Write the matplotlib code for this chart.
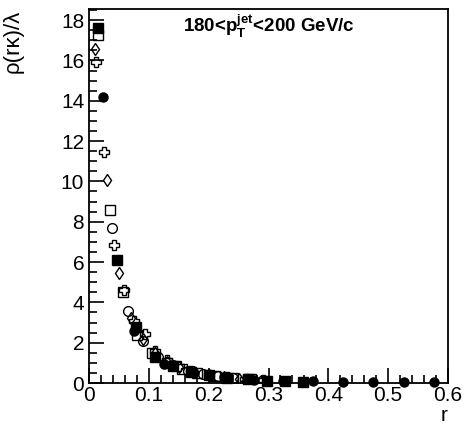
import matplotlib.pyplot as plt
from matplotlib.ticker import MultipleLocator, FuncFormatter

plt.rcParams['font.family'] = ['Liberation Sans', 'DejaVu Sans']
plt.rcParams['mathtext.fontset'] = 'custom'
plt.rcParams['mathtext.rm'] = 'Liberation Sans:bold'
plt.rcParams['mathtext.bf'] = 'Liberation Sans:bold'

# filled circles
r_fc = [0.023, 0.075, 0.125, 0.175, 0.225, 0.275, 0.325, 0.375, 0.425, 0.475, 0.527, 0.577]
y_fc = [14.2, 2.6, 0.95, 0.5, 0.28, 0.17, 0.12, 0.09, 0.07, 0.06, 0.05, 0.05]
# filled squares
r_fs = [0.015, 0.047, 0.078, 0.11, 0.14, 0.17, 0.2, 0.23, 0.265, 0.297, 0.328, 0.358]
y_fs = [17.6, 6.1, 2.8, 1.3, 0.85, 0.55, 0.38, 0.27, 0.2, 0.12, 0.09, 0.03]
# open squares
r_os = [0.015, 0.035, 0.057, 0.08, 0.105, 0.13, 0.155, 0.18, 0.21, 0.24, 0.27]
y_os = [17.25, 8.6, 4.5, 2.4, 1.5, 1.0, 0.7, 0.5, 0.35, 0.25, 0.18]
# open circles
r_oc = [0.038, 0.065, 0.09, 0.115, 0.14, 0.165, 0.19, 0.215, 0.24, 0.265, 0.29]
y_oc = [7.7, 3.55, 2.1, 1.3, 0.9, 0.62, 0.45, 0.33, 0.24, 0.18, 0.13]
# open diamonds
r_od = [0.01, 0.03, 0.05, 0.07, 0.09, 0.11, 0.13, 0.15, 0.175, 0.2, 0.225, 0.25]
y_od = [16.55, 10.05, 5.45, 3.2, 2.2, 1.5, 1.05, 0.78, 0.55, 0.4, 0.3, 0.22]
# open crosses
r_ox = [0.012, 0.025, 0.042, 0.058, 0.075, 0.093, 0.11, 0.13, 0.15, 0.17, 0.2, 0.23, 0.26, 0.29]
y_ox = [15.9, 11.45, 6.85, 4.6, 3.1, 2.45, 1.6, 1.15, 0.85, 0.6, 0.42, 0.3, 0.22, 0.15]

fig = plt.figure(figsize=(4.67, 4.25), dpi=100)
ax = fig.add_axes([0.1906, 0.0988, 0.7687, 0.88])

ax.plot(r_fc, y_fc, 'o', color='black', markersize=6.5, clip_on=False)
ax.plot(r_fs, y_fs, 's', color='black', markersize=7, clip_on=False)
ax.plot(r_os, y_os, 's', mfc='none', mec='black', mew=1.0, markersize=7)
ax.plot(r_oc, y_oc, 'o', mfc='none', mec='black', mew=1.0, markersize=7)
ax.plot(r_od, y_od, 'd', mfc='none', mec='black', mew=1.0, markersize=6)
ax.plot(r_ox, y_ox, 'P', mfc='none', mec='black', mew=1.0, markersize=7.5)

ax.set_xlim(0, 0.6)
ax.set_ylim(0, 18.55)
ax.xaxis.set_major_locator(MultipleLocator(0.1))
ax.xaxis.set_minor_locator(MultipleLocator(0.02))
ax.yaxis.set_major_locator(MultipleLocator(2))
ax.yaxis.set_minor_locator(MultipleLocator(0.5))
ax.xaxis.set_major_formatter(FuncFormatter(lambda v, p: '0' if abs(v) < 1e-9 else f'{v:.1f}'))
ax.tick_params(which='both', direction='in', top=False, right=False, labelsize=15, width=1.2)
ax.tick_params(axis='x', pad=2.5)
ax.tick_params(which='major', length=11)
ax.tick_params(which='minor', length=6)
for s in ax.spines.values():
    s.set_linewidth(1.3)

fig.text(0.005, 0.978, 'ρ(rκ)/λ', rotation=90, ha='left', va='top', fontsize=16)
fig.text(0.958, 0.0, 'r', ha='right', va='bottom', fontsize=15)
ax.text(0.5, 0.955, r'180<p$_{\mathrm{T}}^{\mathrm{jet}}$<200 GeV/c', transform=ax.transAxes,
        ha='center', va='center', fontsize=13.5, fontweight='bold')

fig.savefig('out.png', dpi=100)
